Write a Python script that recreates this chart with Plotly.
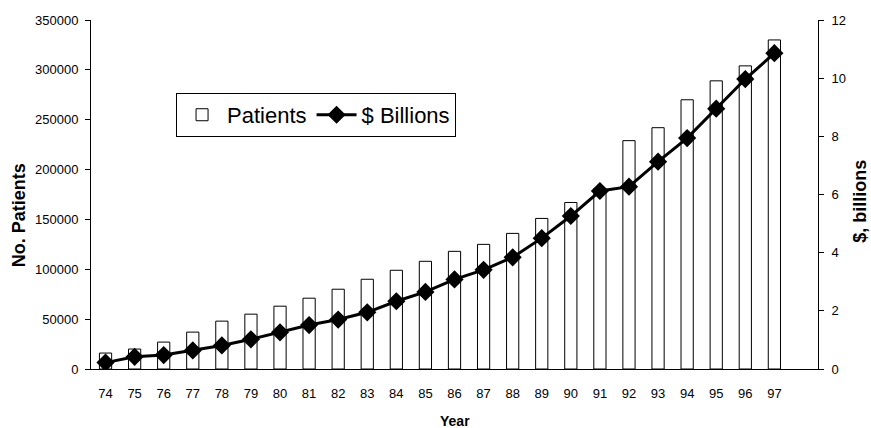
import plotly.graph_objects as go

# Dialysis patients and spending per year
years = list(range(74, 98))
year_labels = [str(y) for y in years]
patients = [16000, 20000, 27000, 37000, 48000, 55000, 63000, 71000, 80000, 90000,
            99000, 108000, 118000, 125000, 136000, 151000, 167000, 181000, 229000,
            242000, 270000, 289000, 304000, 330000]
billions = [0.22, 0.42, 0.48, 0.64, 0.81, 1.02, 1.26, 1.51, 1.70, 1.95, 2.33, 2.65,
            3.08, 3.41, 3.84, 4.50, 5.26, 6.12, 6.27, 7.13, 7.94, 8.95, 9.97, 10.86]
left_ticks = list(range(0, 350001, 50000))
right_ticks = list(range(0, 13, 2))

FONT = "Liberation Sans, Arial, sans-serif"
x_range = [years[0] - 0.5, years[-1] + 1.5]
boundaries = [y + 0.5 for y in years]

fig = go.Figure()
fig.add_trace(go.Bar(
    x=years, y=patients, name="Patients", width=0.42,
    marker=dict(color="white", line=dict(color="black", width=1)),
    xaxis="x", yaxis="y",
))
fig.add_trace(go.Scatter(
    x=years, y=billions, name="$ Billions", mode="lines+markers",
    line=dict(color="black", width=3),
    marker=dict(symbol="diamond", size=14, color="black"),
    xaxis="x", yaxis="y2",
))

axis_common = dict(showgrid=False, zeroline=False, linecolor="black", linewidth=1,
                   tickcolor="black", tickwidth=1,
                   tickfont=dict(family=FONT, size=13, color="black"))

fig.update_layout(
    width=871, height=428,
    margin=dict(l=91, r=53, t=20, b=59),
    paper_bgcolor="white", plot_bgcolor="white",
    showlegend=True,
    legend=dict(orientation="h", x=0.117, y=0.791, xanchor="left", yanchor="top",
                bordercolor="black", borderwidth=1, bgcolor="white",
                font=dict(family=FONT, size=22, color="black"), itemwidth=40),
    xaxis=dict(range=x_range, tickmode="array", tickvals=years, ticktext=year_labels,
               ticks="", showline=True, ticklabelstandoff=12, **axis_common),
    xaxis2=dict(range=x_range, overlaying="x", anchor="y", side="bottom",
                tickmode="array", tickvals=boundaries, ticks="outside", ticklen=5,
                showticklabels=False, showline=False, **axis_common),
    xaxis3=dict(range=x_range, overlaying="x", anchor="y", side="bottom",
                tickmode="array", tickvals=boundaries, ticks="inside", ticklen=4,
                showticklabels=False, showline=False, **axis_common),
    yaxis=dict(range=[0, 350000], tickmode="array", tickvals=left_ticks,
               tickformat="d", ticks="outside", ticklen=5, showline=True,
               ticklabelstandoff=4, **axis_common),
    yaxis2=dict(range=[0, 12], tickmode="array", tickvals=right_ticks,
                overlaying="y", side="right", anchor="x", ticks="outside",
                ticklen=5, showline=True, ticklabelstandoff=5, **axis_common),
    yaxis3=dict(range=[0, 350000], tickmode="array", tickvals=left_ticks,
                overlaying="y", side="left", anchor="x", ticks="inside", ticklen=5,
                showticklabels=False, showline=False, **axis_common),
    yaxis4=dict(range=[0, 12], tickmode="array", tickvals=right_ticks,
                overlaying="y", side="right", anchor="x", ticks="inside", ticklen=5,
                showticklabels=False, showline=False, **axis_common),
    annotations=[
        dict(text="<b>No. Patients</b>", xref="paper", yref="paper",
             x=-0.098, y=0.44, xanchor="center", yanchor="middle",
             textangle=-90, showarrow=False,
             font=dict(family=FONT, size=18, color="black")),
        dict(text="<b>$, billions</b>", xref="paper", yref="paper",
             x=1.058, y=0.48, xanchor="center", yanchor="middle",
             textangle=-90, showarrow=False,
             font=dict(family=FONT, size=18, color="black")),
        dict(text="<b>Year</b>", xref="paper", yref="paper",
             x=0.5, y=-0.149, xanchor="center", yanchor="middle",
             showarrow=False,
             font=dict(family=FONT, size=14, color="black")),
    ],
)

fig.write_html("out.html")
